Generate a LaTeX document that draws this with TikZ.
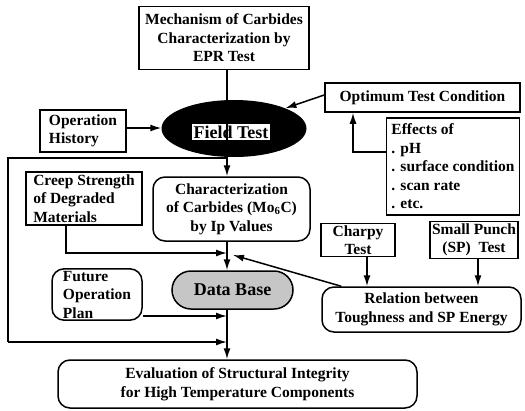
\documentclass[tikz,border=0pt]{standalone}
\usepackage{fontspec}
\setmainfont{Liberation Serif}
\usetikzlibrary{shapes.geometric,arrows.meta,calc}
\newcommand{\flowlw}{1.5pt}
\newcommand{\flowtext}{\fontsize{15.5}{18.5}\selectfont\bfseries}
\newcommand{\flowtitle}{\fontsize{18}{20}\selectfont\bfseries}
\tikzset{
	box/.style={draw, line width=\flowlw, inner sep=2pt, align=center, font=\flowtext},
	rbox/.style={box, rounded corners=12pt},
	lbox/.style={box, align=left},
	wire/.style={line width=\flowlw},
	link/.style={wire, -{Latex[length=11pt,width=7pt]}}
}

\begin{document}
\begin{tikzpicture}[x=1pt, y=-1pt]
	% The frame:
	\useasboundingbox (0,0) rectangle (525,410);
	% Top row:
	\node[box, minimum width=170pt, minimum height=63pt] (mech) at (224,38)
		{Mechanism of Carbides\\Characterization by\\EPR Test};
	\node[ellipse, fill=black, minimum width=145pt, minimum height=57pt] (field) at (234,128.5) {};
	\node[fill=white, inner sep=1.5pt, font=\flowtitle] (fieldname) at (231,132) {Field Test};
	\node[lbox, minimum width=86pt, minimum height=42pt] (history) at (83,131)
		{Operation\\History};
	\node[box, minimum width=195pt, minimum height=29pt] (optimum) at (422.5,97.5)
		{Optimum Test Condition};
	\node[lbox, minimum width=133pt, minimum height=97pt] (effects) at (453,166.5)
		{Effects of\\. pH\\. surface condition\\. scan rate\\. etc.};
	% Middle row:
	\node[lbox, minimum width=116pt, minimum height=53pt] (creep) at (84,198.5)
		{Creep Strength\\of Degraded\\Materials};
	\node[rbox, minimum width=157pt, minimum height=64pt] (carbide) at (231.5,209)
		{Characterization\\of Carbides (Mo\textsubscript{6}C)\\by Ip Values};
	\node[box, minimum width=74pt, minimum height=30pt] (charpy) at (358,240)
		{Charpy\\Test};
	\node[box, minimum width=88pt, minimum height=30pt] (punch) at (474,240)
		{Small Punch\\(SP)~~Test};
	\node[rbox, minimum width=199pt, minimum height=45pt] (relation) at (421.5,309.5)
		{Relation between\\Toughness and SP Energy};
	% Bottom row:
	\node[rbox, align=left, minimum width=90pt, minimum height=51pt] (future) at (97,294.5)
		{Future\\Operation\\Plan};
	\node[box, fill=gray!45, font=\flowtitle, rounded corners=19pt, minimum width=121pt, minimum height=38pt] (database) at (232.5,290)
		{Data Base};
	\node[rbox, minimum width=359pt, minimum height=48pt] (evaluation) at (237.5,384)
		{Evaluation of Structural Integrity\\for High Temperature Components};
	% Junctions on the trunk:
	\coordinate (split) at (227,158);
	\coordinate (upper) at (227,253);
	\coordinate (lower) at (227,316);
	\coordinate (bottom) at (227,342);
	\coordinate (corner) at (353,152);
	% Connectors:
	\draw[link] (mech.south -| split) -- (field.south -| split |- field.north);
	\draw[link] (history.east |- 0,128) -- (field.west |- 0,128);
	\draw[link] (optimum.west |- 0,95) -- (field.north east);
	\draw[link] (effects.west |- corner) -- (corner) -- (corner |- optimum.south);
	\draw[link] (field.south -| split) -- (carbide.north -| split);
	\draw[wire] (split) -- (8,158) -- (8,342);
	\draw[link] (8,342) -- (bottom);
	\draw[link] (creep.south -| 66,0) -- (66,253) -- (upper);
	\draw[link] (carbide.south -| split) -- (database.north -| split);
	\draw[link] (relation.north west) ++(20,0) -- (233,255);
	\draw[link] (charpy.south -| 367,0) -- (relation.north -| 367,0);
	\draw[link] (punch.south -| 478,0) -- (relation.north -| 478,0);
	\draw[link] (future.east |- lower) -- (lower);
	\draw[link] (database.south -| split) -- (evaluation.north -| split);
\end{tikzpicture}
\end{document}
